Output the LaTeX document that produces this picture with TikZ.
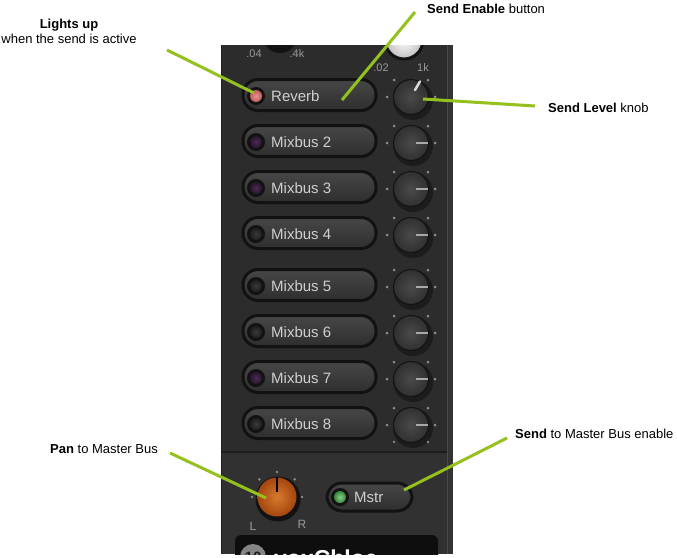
\documentclass[tikz,border=0pt]{standalone}
\usepackage{fontspec}
\setmainfont{Liberation Sans}
\usetikzlibrary{calc}
\definecolor{callout}{HTML}{94C11E}
\definecolor{panelbg}{HTML}{2C2C2C}
\definecolor{panellow}{HTML}{313131}
\definecolor{panelstrip}{HTML}{333333}
\definecolor{panelline}{HTML}{4A4A4A}
\definecolor{paneledge}{HTML}{1E1E1E}
\definecolor{rim}{HTML}{121212}
\definecolor{btntop}{HTML}{474747}
\definecolor{btnbot}{HTML}{2E2E2E}
\definecolor{knobin}{HTML}{4A4A4A}
\definecolor{knobout}{HTML}{303030}
\definecolor{knobshade}{HTML}{1C1C1C}
\definecolor{uitext}{HTML}{CFCFCF}
\definecolor{scaletext}{HTML}{9A9A9A}
\definecolor{ticks}{HTML}{8C8C8C}
\definecolor{redin}{HTML}{E89494}
\definecolor{redout}{HTML}{C05A5A}
\definecolor{purin}{HTML}{4C2C54}
\definecolor{purout}{HTML}{28152C}
\definecolor{offin}{HTML}{3A3A3A}
\definecolor{offout}{HTML}{1E1E1E}
\definecolor{ledgreen}{HTML}{3FA845}
\definecolor{whiteknobout}{HTML}{BEBEBE}
\definecolor{ptrlight}{HTML}{D8D8D8}
\definecolor{ptrgray}{HTML}{A8A8A8}
\definecolor{paninner}{HTML}{D77A2E}
\definecolor{panouter}{HTML}{A4460E}
\definecolor{namebar}{HTML}{0E0E0E}
\definecolor{numcircle}{HTML}{858585}
\definecolor{numtext}{HTML}{1E1E1E}
\begin{document}
\begin{tikzpicture}[x=1pt,y=-1pt,
  annot/.style={font=\fontsize{13}{15}\selectfont, text=black, inner sep=0pt, anchor=base west},
  conn/.style={draw=callout, line width=3pt},
  pillbtn/.style={rounded corners=15pt, draw=rim, line width=3pt, top color=btntop, bottom color=btnbot, inner sep=0pt},
  ledwell/.style={circle, fill=rim, minimum size=18pt, inner sep=0pt},
  ledlamp/.style={circle, inner sep=0pt, minimum size=12pt},
  btntext/.style={font=\fontsize{15}{17}\selectfont, text=uitext, inner sep=0pt, anchor=west},
  knobshadow/.style={circle, fill=knobshade, minimum size=40pt, inner sep=0pt},
  knobbody/.style={circle, draw=rim, line width=1pt, inner color=knobin, outer color=knobout, minimum size=35pt, inner sep=0pt},
  tickdot/.style={fill=ticks},
  scalelbl/.style={font=\fontsize{11}{13}\selectfont, text=scaletext, inner sep=0pt}
]
\useasboundingbox (0,0) rectangle (677,557);
\fill[white] (0,0) rectangle (677,557);

% ---------------- panel ----------------
\begin{scope}
  \clip (221,45) rectangle (453,554);
  \fill[panelbg] (221,45) rectangle (453,554);
  \fill[panellow] (221,452) rectangle (447,554);
  \draw[rim!60!panelbg, line width=1.5pt] (221,452) -- (447,452);
  \fill[panelstrip] (447,45) rectangle (453,554);
  \draw[panelline, line width=1pt] (447,45) -- (447,554);
  \draw[paneledge, line width=1.5pt] (221.7,45) -- (221.7,554);

  % partial knobs at top
  \node[circle, fill=rim, minimum size=34pt, inner sep=0pt] (topknobA) at (280,36) {};
  \node[circle, draw=rim, line width=3pt, inner color=white, outer color=whiteknobout, minimum size=38pt, inner sep=0pt] (topknobB) at (404,40) {};
  \node[scalelbl] (s04) at (254,54) {.04};
  \node[scalelbl] (s4k) at (297,54) {.4k};
  \node[scalelbl] (s02) at (381,68) {.02};
  \node[scalelbl] (s1k) at (423,68) {1k};

  % send rows
  \foreach \ry/\lbl/\lin/\lout [count=\i] in {95/Reverb/redin/redout, 141/Mixbus 2/purin/purout, 187/Mixbus 3/purin/purout, 233/Mixbus 4/offin/offout, 285/Mixbus 5/offin/offout, 331/Mixbus 6/offin/offout, 377/Mixbus 7/purin/purout, 423/Mixbus 8/offin/offout}{
    \node[pillbtn, minimum width=133pt, minimum height=31pt] (btn\i) at (309.5,\ry) {};
    \node[ledwell] (well\i) at (256,\ry+1) {};
    \node[ledlamp, inner color=\lin, outer color=\lout] (led\i) at (256,\ry+1) {};
    \node[btntext] (txt\i) at (271,\ry+1) {\lbl};
    \coordinate (kc\i) at (411,\ry+2);
    \foreach \a in {180,-135,-45,0}{
      \fill[tickdot] ($(kc\i)+(\a:24)$) circle (1.5pt);
    }
    \node[knobshadow] (ks\i) at ($(kc\i)+(2,3)$) {};
    \node[knobbody] (knob\i) at (kc\i) {};
  }
  % bottom ticks of last knob
  \foreach \a in {135,45}{ \fill[tickdot] ($(kc8)+(\a:24)$) circle (1.3pt); }
  % knob pointers
  \draw[ptrlight, line width=2.5pt, line cap=round] ($(kc1)+(-60:8)$) -- ($(kc1)+(-60:18)$);
  \foreach \i in {2,...,8}{
    \draw[ptrgray, line width=1.5pt] ($(kc\i)+(5,0)$) -- ($(kc\i)+(17,0)$);
  }

  % pan knob
  \coordinate (pc) at (277,497);
  \foreach \a in {180,-135,-90,-45,0}{
    \fill[tickdot] ($(pc)+(\a:25)$) circle (1.4pt);
  }
  \node[circle, fill=rim, minimum size=45pt, inner sep=0pt] (panrim) at ($(pc)+(1,2)$) {};
  \node[circle, inner color=paninner, outer color=panouter, minimum size=39pt, inner sep=0pt] (pan) at (pc) {};
  \draw[black, line width=2.5pt] ($(pc)+(0,-20)$) -- ($(pc)+(0,-5)$);
  \node[scalelbl, font=\fontsize{12}{14}\selectfont] (lblL) at (253,526) {L};
  \node[scalelbl, font=\fontsize{12}{14}\selectfont] (lblR) at (302,524) {R};

  % Mstr button
  \node[pillbtn, minimum width=85pt, minimum height=28pt] (mstr) at (369.5,497) {};
  \node[ledwell] (mwell) at (340,497) {};
  \node[ledlamp, inner color=ledgreen!60!white, outer color=ledgreen!80!black] (mled) at (340,497) {};
  \node[btntext] (mtxt) at (354,497) {Mstr};

  % name bar
  \fill[namebar, rounded corners=6pt] (235,535) rectangle (438,570);
  \node[circle, fill=numcircle, minimum size=26pt, inner sep=0pt] (num) at (253,557) {};
  \node[font=\bfseries\fontsize{15}{17}\selectfont, text=numtext, inner sep=0pt] (numtxt) at (253,557) {10};
  \node[font=\bfseries\fontsize{23}{25}\selectfont, text=white, inner sep=0pt, anchor=base west] (name) at (274,566.5) {voxChloe};
\end{scope}

% ---------------- annotations ----------------
\node[annot, anchor=base, font=\bfseries\fontsize{13}{15}\selectfont] (t1a) at (69,28) {Lights up};
\node[annot, anchor=base] (t1b) at (69,43.3) {when the send is active};
\node[annot] (t2) at (427,13.5) {\textbf{Send Enable} button};
\node[annot] (t3) at (548,112) {\textbf{Send Level} knob};
\node[annot] (t4) at (50,453.3) {\textbf{Pan} to Master Bus};
\node[annot] (t5) at (515,438.3) {\textbf{Send} to Master Bus enable};

\coordinate (a1) at (167,50);   \coordinate (e1) at (254,93);
\coordinate (a2) at (415,12);   \coordinate (e2) at (342,100);
\coordinate (a3) at (535,106);  \coordinate (e3) at (423,99);
\coordinate (a4) at (170,453);  \coordinate (e4) at (266,498);
\coordinate (a5) at (507,438);  \coordinate (e5) at (404,490);
\draw[conn] (a1) -- (e1);
\draw[conn] (a2) -- (e2);
\draw[conn] (a3) -- (e3);
\draw[conn] (a4) -- (e4);
\draw[conn] (a5) -- (e5);
\end{tikzpicture}
\end{document}
